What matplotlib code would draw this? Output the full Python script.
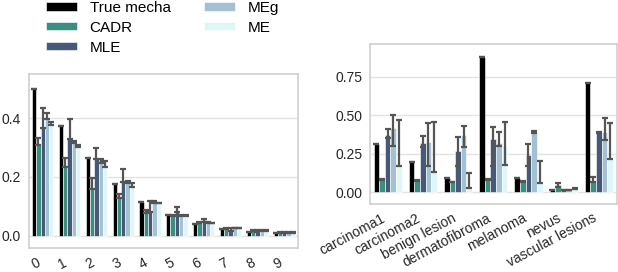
import matplotlib
matplotlib.use("Agg")
import matplotlib.pyplot as plt
import numpy as np

plt.rcParams['font.family'] = ['Liberation Sans', 'DejaVu Sans']

# ---------------- data ----------------
hue_names = ["True mecha", "CADR", "MLE", "MEg", "ME"]
hue_colors = ["#000000", "#3a8f80", "#465a78", "#a3c1d3", "#e0f5f6"]

digits = ["0", "1", "2", "3", "4", "5", "6", "7", "8", "9"]
d_true_m = [0.500, 0.374, 0.264, 0.176, 0.114, 0.070, 0.040, 0.022, 0.014, 0.009]
d_cadr_m = [0.310, 0.237, 0.160, 0.130, 0.080, 0.068, 0.046, 0.025, 0.019, 0.011]
d_cadr_lo = [0.309, 0.235, 0.158, 0.128, 0.078, 0.066, 0.044, 0.023, 0.017, 0.010]
d_cadr_hi = [0.334, 0.264, 0.196, 0.142, 0.086, 0.072, 0.048, 0.027, 0.021, 0.013]
d_mle_m = [0.370, 0.333, 0.263, 0.186, 0.082, 0.083, 0.050, 0.020, 0.015, 0.011]
d_mle_lo = [0.368, 0.331, 0.261, 0.184, 0.080, 0.082, 0.046, 0.016, 0.013, 0.010]
d_mle_hi = [0.436, 0.397, 0.300, 0.227, 0.118, 0.099, 0.056, 0.027, 0.018, 0.013]
d_meg_m = [0.400, 0.316, 0.250, 0.182, 0.115, 0.069, 0.044, 0.026, 0.017, 0.011]
d_meg_lo = [0.398, 0.315, 0.247, 0.179, 0.112, 0.068, 0.043, 0.025, 0.016, 0.010]
d_meg_hi = [0.417, 0.321, 0.261, 0.187, 0.118, 0.071, 0.046, 0.027, 0.018, 0.012]
d_me_m = [0.380, 0.303, 0.240, 0.172, 0.111, 0.069, 0.043, 0.026, 0.017, 0.010]
d_me_lo = [0.377, 0.301, 0.233, 0.166, 0.110, 0.068, 0.042, 0.025, 0.016, 0.009]
d_me_hi = [0.389, 0.308, 0.255, 0.179, 0.113, 0.071, 0.044, 0.027, 0.018, 0.011]

lesions = ["carcinoma1", "carcinoma2", "benign lesion", "dermatofibroma",
           "melanoma", "nevus", "vascular lesions"]
l_true_m = [0.310, 0.193, 0.091, 0.876, 0.092, 0.012, 0.707]
l_cadr_m = [0.078, 0.072, 0.065, 0.082, 0.066, 0.045, 0.072]
l_cadr_lo = [0.075, 0.070, 0.062, 0.077, 0.064, 0.035, 0.065]
l_cadr_hi = [0.082, 0.076, 0.068, 0.087, 0.069, 0.060, 0.100]
l_mle_m = [0.370, 0.317, 0.267, 0.345, 0.241, 0.012, 0.385]
l_mle_lo = [0.349, 0.291, 0.169, 0.169, 0.169, 0.010, 0.383]
l_mle_hi = [0.410, 0.366, 0.360, 0.421, 0.310, 0.014, 0.390]
l_meg_m = [0.414, 0.327, 0.371, 0.320, 0.390, 0.012, 0.388]
l_meg_lo = [0.299, 0.169, 0.295, 0.300, 0.385, 0.010, 0.338]
l_meg_hi = [0.501, 0.451, 0.431, 0.392, 0.395, 0.014, 0.483]
l_me_m = [0.169, 0.128, 0.025, 0.300, 0.060, 0.020, 0.213]
l_me_lo = [0.169, 0.128, 0.024, 0.176, 0.060, 0.018, 0.213]
l_me_hi = [0.468, 0.457, 0.122, 0.453, 0.202, 0.023, 0.451]

digit_series = [
    (d_true_m, d_true_m, d_true_m),
    (d_cadr_m, d_cadr_lo, d_cadr_hi),
    (d_mle_m, d_mle_lo, d_mle_hi),
    (d_meg_m, d_meg_lo, d_meg_hi),
    (d_me_m, d_me_lo, d_me_hi),
]
lesion_series = [
    (l_true_m, l_true_m, l_true_m),
    (l_cadr_m, l_cadr_lo, l_cadr_hi),
    (l_mle_m, l_mle_lo, l_mle_hi),
    (l_meg_m, l_meg_lo, l_meg_hi),
    (l_me_m, l_me_lo, l_me_hi),
]

# ---------------- figure ----------------
W, H = 618, 272
fig = plt.figure(figsize=(W / 100, H / 100), dpi=100)

def px_axes(x0, y0, x1, y1):
    return fig.add_axes([x0 / W, 1 - y1 / H, (x1 - x0) / W, (y1 - y0) / H])

ax1 = px_axes(29.3, 74, 297.7, 248.3)
ax2 = px_axes(370, 44, 616.5, 204)

edge = "#d0d0d0"
grid = "#e3e3e3"
err_c = "#555555"

def draw(ax, cats, series, ylim, yticks, ytl, ypad):
    n = len(series)
    bw = 0.8 / n
    x = np.arange(len(cats))
    handles = []
    for i, ((m, lo, hi), c, name) in enumerate(zip(series, hue_colors, hue_names)):
        xs = x - 0.4 + bw * (i + 0.5)
        m = np.asarray(m); lo = np.asarray(lo); hi = np.asarray(hi)
        b = ax.bar(xs, m, width=bw, color=c, edgecolor="white", linewidth=0.4,
                   label=name, zorder=2)
        handles.append(b)
        ax.errorbar(xs, m, yerr=[m - lo, hi - m], fmt="none", ecolor=err_c,
                    elinewidth=1.6, capsize=2.2, capthick=1.6, zorder=3)
    ax.set_xlim(-0.5, len(cats) - 0.5)
    ax.set_ylim(*ylim)
    ax.set_yticks(yticks)
    ax.set_yticklabels(ytl)
    ax.set_xticks(x)
    ax.set_xticklabels(cats, rotation=28, ha="right", rotation_mode="default")
    ax.grid(axis="y", color=grid, linewidth=1.0, zorder=0)
    ax.grid(axis="x", visible=False)
    ax.set_axisbelow(True)
    for s in ax.spines.values():
        s.set_color(edge)
        s.set_linewidth(1.2)
    ax.tick_params(axis="both", length=0, labelsize=10, colors="#262626")
    ax.tick_params(axis="y", pad=ypad)
    ax.tick_params(axis="x", pad=5)
    return handles

handles = draw(ax1, digits, digit_series, (-0.043, 0.551), [0.0, 0.2, 0.4],
               ["0.0", "0.2", "0.4"], 6.0)
draw(ax2, lesions, lesion_series, (-0.078, 0.963), [0.0, 0.25, 0.5, 0.75],
     ["0.00", "0.25", "0.50", "0.75"], 5.3)

fig.legend(handles=handles, labels=hue_names, loc="upper left",
           bbox_to_anchor=(46 / W, 1 - 1 / H), ncol=2, frameon=False,
           fontsize=11, borderpad=0, borderaxespad=0, handlelength=2.0,
           handleheight=0.45, handletextpad=0.85, labelspacing=0.38,
           columnspacing=2.2)

fig.savefig("out.png", dpi=100)
